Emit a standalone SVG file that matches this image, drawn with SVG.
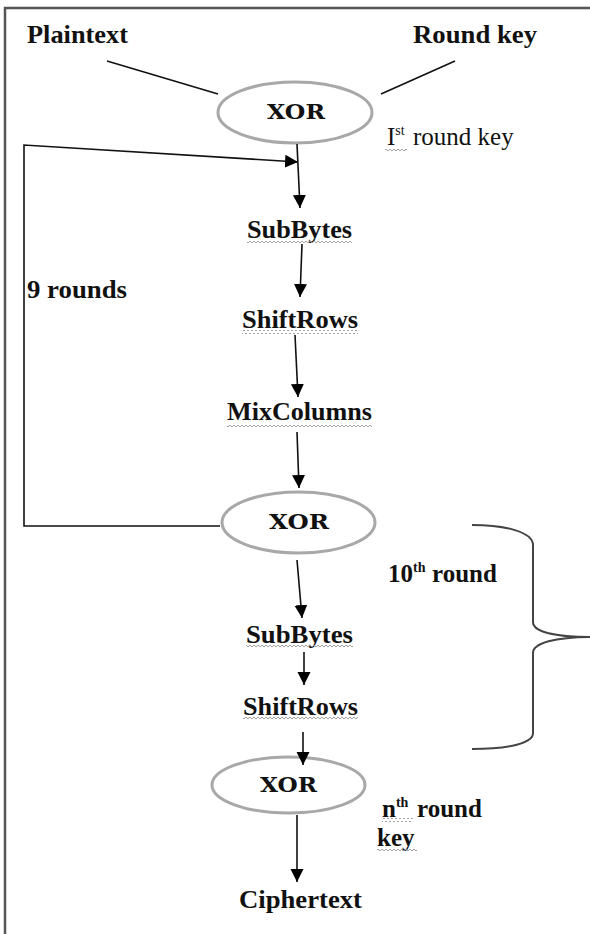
<svg xmlns="http://www.w3.org/2000/svg" width="590" height="934" viewBox="0 0 590 934">
<style>
.t{font-family:"Liberation Serif","Times New Roman",serif;font-size:25px;fill:#111}
.b{font-weight:bold}
.x{font-family:"DejaVu Serif","Liberation Serif",serif;font-weight:bold;font-size:20px;fill:#111}
.el{fill:#fff;stroke:#a8a8a8;stroke-width:3}
.ln{stroke:#111;stroke-width:1.6;fill:none}
.sq{fill:url(#sq)}
</style>
<defs>
<marker id="ah" markerUnits="userSpaceOnUse" markerWidth="14" markerHeight="14" refX="13" refY="6.5" orient="auto">
<path d="M0,0 L13,6.5 L0,13 z" fill="#000"/>
</marker>
<pattern id="sq" width="4" height="4" patternUnits="userSpaceOnUse">
<path d="M0,3 L2,1 L4,3" stroke="#999" stroke-width="0.9" fill="none"/>
</pattern>
</defs>
<rect x="5" y="8" width="620" height="960" fill="none" stroke="#555" stroke-width="2.5"/>

<g id="plaintext"><text class="t b" x="27" y="43" textLength="101" lengthAdjust="spacingAndGlyphs">Plaintext</text></g>
<g id="roundkey"><text class="t b" x="413" y="43" textLength="124" lengthAdjust="spacingAndGlyphs">Round key</text></g>

<g id="xor1">
<ellipse class="el" cx="295" cy="112.5" rx="77" ry="30.5"/>
<text class="x" x="267" y="119" textLength="58" lengthAdjust="spacingAndGlyphs">XOR</text>
</g>
<g id="firstkey">
<text class="t" x="387" y="145">I<tspan font-size="14" dy="-10">st</tspan><tspan x="413" dy="10">round key</tspan></text>
<rect class="sq" x="385" y="147" width="22" height="4"/>
</g>

<g id="subbytes1">
<text class="t b" x="247" y="238" textLength="105" lengthAdjust="spacingAndGlyphs">SubBytes</text>
<rect class="sq" x="247" y="240" width="105" height="4"/>
</g>
<g id="nine"><text class="t b" x="27" y="298" textLength="100" lengthAdjust="spacingAndGlyphs">9 rounds</text></g>
<g id="shiftrows1">
<text class="t b" x="242" y="328" textLength="116" lengthAdjust="spacingAndGlyphs">ShiftRows</text>
<rect class="sq" x="242" y="330" width="116" height="4"/>
</g>
<g id="mixcolumns">
<text class="t b" x="227" y="420" textLength="145" lengthAdjust="spacingAndGlyphs">MixColumns</text>
<rect class="sq" x="227" y="423" width="145" height="4"/>
</g>

<g id="xor2">
<ellipse class="el" cx="298.5" cy="522.5" rx="76.5" ry="30.5"/>
<text class="x" x="269" y="529" textLength="60" lengthAdjust="spacingAndGlyphs">XOR</text>
</g>
<g id="tenth">
<text class="t b" x="388" y="582">10<tspan font-size="14" dy="-10">th</tspan><tspan x="432" dy="10">round</tspan></text>
</g>

<g id="subbytes2">
<text class="t b" x="246" y="643" textLength="107" lengthAdjust="spacingAndGlyphs">SubBytes</text>
<rect class="sq" x="246" y="645" width="107" height="4"/>
</g>
<g id="shiftrows2">
<text class="t b" x="243" y="715" textLength="115" lengthAdjust="spacingAndGlyphs">ShiftRows</text>
<rect class="sq" x="243" y="717" width="115" height="4"/>
</g>

<g id="xor3">
<ellipse class="el" cx="288.5" cy="785" rx="76.5" ry="28"/>
<text class="x" x="260" y="792" textLength="57" lengthAdjust="spacingAndGlyphs">XOR</text>
</g>
<g id="nthkey">
<text class="t b" x="382" y="817">n<tspan font-size="14" dy="-10">th</tspan><tspan x="417" dy="10">round</tspan></text>
<text class="t b" x="377" y="846">key</text>
<rect class="sq" x="382" y="818" width="31" height="4"/>
<rect class="sq" x="377" y="848" width="40" height="4"/>
</g>

<g id="ciphertext"><text class="t b" x="239" y="908" textLength="123" lengthAdjust="spacingAndGlyphs">Ciphertext</text></g>

<g id="connectors">
<line class="ln" x1="107" y1="61" x2="218" y2="94"/>
<line class="ln" x1="455" y1="61" x2="381" y2="94"/>
<line class="ln" x1="297" y1="144" x2="300" y2="208" marker-end="url(#ah)"/>
<line class="ln" x1="302" y1="244" x2="300" y2="297" marker-end="url(#ah)"/>
<line class="ln" x1="295" y1="335" x2="298" y2="397" marker-end="url(#ah)"/>
<line class="ln" x1="297" y1="432" x2="299" y2="488" marker-end="url(#ah)"/>
<line class="ln" x1="297" y1="560" x2="302" y2="618" marker-end="url(#ah)"/>
<line class="ln" x1="304" y1="652" x2="304" y2="685" marker-end="url(#ah)"/>
<line class="ln" x1="303" y1="732" x2="303" y2="765" marker-end="url(#ah)"/>
<line class="ln" x1="297" y1="815" x2="297" y2="882" marker-end="url(#ah)"/>
<path class="ln" d="M220,526 L24,526 L24,145 L298,162" marker-end="url(#ah)"/>
<path d="M472,525 C505,525 533,532 533,545 L533,622 C533,632 555,637 592,637 M592,637 C555,637 533,643 533,653 L533,733 C533,743 510,749 472,749" fill="none" stroke="#444" stroke-width="2"/>
</g>
</svg>
